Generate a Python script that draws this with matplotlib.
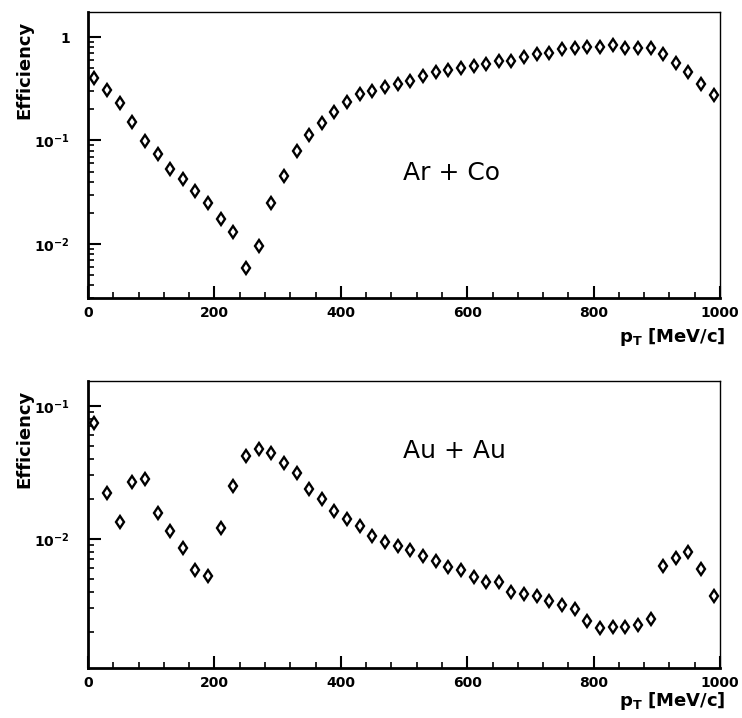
import matplotlib
matplotlib.use('Agg')
import matplotlib.pyplot as plt
from matplotlib.ticker import FixedLocator, LogLocator, NullFormatter

plt.rcParams['font.family'] = ['DejaVu Sans']
plt.rcParams['mathtext.default'] = 'bf'

# p_T bin centres (MeV/c)
pt = [10, 30, 50, 70, 90, 110, 130, 150, 170, 190,
      210, 230, 250, 270, 290, 310, 330, 350, 370, 390,
      410, 430, 450, 470, 490, 510, 530, 550, 570, 590,
      610, 630, 650, 670, 690, 710, 730, 750, 770, 790,
      810, 830, 850, 870, 890, 910, 930, 950, 970, 990]

# Ar + Co efficiency
eff_arco = [0.40, 0.31, 0.23, 0.152, 0.098, 0.074, 0.053, 0.042, 0.0325, 0.025,
            0.0175, 0.0129, 0.0059, 0.0096, 0.0247, 0.0457, 0.080, 0.113, 0.149, 0.19,
            0.237, 0.28, 0.30, 0.33, 0.35, 0.376, 0.42, 0.46, 0.48, 0.50,
            0.52, 0.55, 0.59, 0.59, 0.64, 0.685, 0.695, 0.765, 0.78, 0.81,
            0.81, 0.84, 0.79, 0.79, 0.79, 0.68, 0.565, 0.46, 0.35, 0.275]

# Au + Au efficiency
eff_auau = [0.0745, 0.0222, 0.0135, 0.0269, 0.028, 0.0156, 0.0114, 0.0085, 0.0058, 0.0053,
            0.012, 0.025, 0.042, 0.047, 0.0444, 0.0373, 0.031, 0.0236, 0.0199, 0.0163,
            0.0141, 0.0126, 0.0105, 0.0094, 0.0088, 0.0082, 0.0074, 0.0068, 0.0061, 0.0058,
            0.0052, 0.0047, 0.0047, 0.00396, 0.00387, 0.00373, 0.00339, 0.0032, 0.00297, 0.0024,
            0.00214, 0.00218, 0.00218, 0.00226, 0.0025, 0.0062, 0.0072, 0.008, 0.0059, 0.0037]

xticks = [0, 200, 400, 600, 800, 1000]

fig = plt.figure(figsize=(7.42, 7.18), dpi=100)
ax1 = fig.add_axes([0.1186, 0.585, 0.8518, 0.398])
ax2 = fig.add_axes([0.1186, 0.0696, 0.8518, 0.400])


def style(ax, eff, yticks, ylabels, ylim, label, ty, xl_y):
    ax.plot(pt, eff, linestyle='none', marker='d', markersize=6,
            markerfacecolor='white', markeredgecolor='black', markeredgewidth=1.7)
    ax.set_yscale('log')
    ax.set_xlim(0, 1000)
    ax.set_ylim(*ylim)
    ax.xaxis.set_major_locator(FixedLocator(xticks))
    ax.xaxis.set_minor_locator(FixedLocator(range(0, 1001, 40)))
    ax.set_xticklabels([str(v) for v in xticks], fontsize=10, fontweight='bold')
    ax.yaxis.set_major_locator(FixedLocator(yticks))
    ax.set_yticklabels(ylabels, fontsize=10, fontweight='bold')
    ax.yaxis.set_minor_locator(LogLocator(base=10, subs=range(2, 10)))
    ax.yaxis.set_minor_formatter(NullFormatter())
    ax.tick_params(which='major', direction='in', length=9, width=1.5)
    ax.tick_params(which='minor', direction='in', length=4, width=1.2)
    ax.tick_params(axis='y', pad=13)
    ax.tick_params(axis='x', pad=6)
    for s in ['left', 'bottom']:
        ax.spines[s].set_linewidth(2)
    for s in ['top', 'right']:
        ax.spines[s].set_linewidth(1)
    ax.text(0.498, ty, label, transform=ax.transAxes, fontsize=18,
            ha='left', va='center')
    ax.text(-0.101, 0.797, 'Efficiency', transform=ax.transAxes, rotation=90,
            fontsize=13, fontweight='bold', ha='center', va='center')
    ax.text(1.008, xl_y, r'$p_T$ [MeV/c]', transform=ax.transAxes,
            fontsize=13, fontweight='bold', ha='right', va='center')


style(ax1, eff_arco, [1, 0.1, 0.01], ['1', r'$10^{-1}$', r'$10^{-2}$'],
      (0.0030, 1.74), 'Ar + Co', 0.437, -0.136)
style(ax2, eff_auau, [0.1, 0.01], [r'$10^{-1}$', r'$10^{-2}$'],
      (0.00107, 0.154), 'Au + Au', 0.755, -0.115)

fig.savefig('out.png', dpi=100)
